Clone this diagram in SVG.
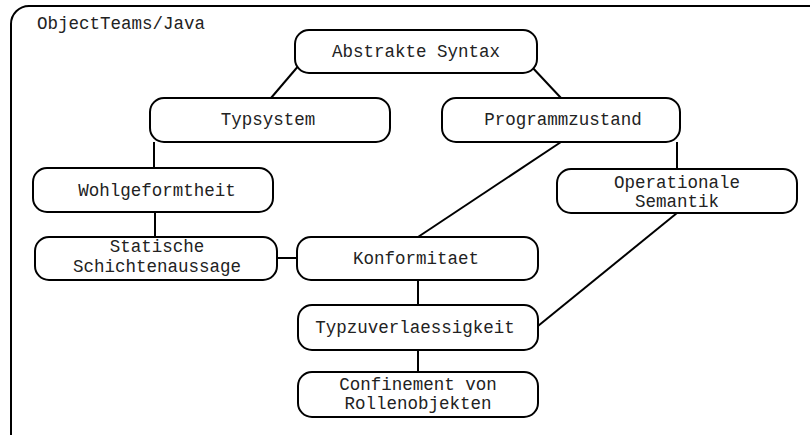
<svg xmlns="http://www.w3.org/2000/svg" width="810" height="435" viewBox="0 0 810 435">
<style>
.frame{fill:none;stroke:#000;stroke-width:2}
.box{fill:#fff;stroke:#000;stroke-width:2}
.edge{fill:none;stroke:#000;stroke-width:2}
text{font-family:"Liberation Mono","Courier New",monospace;font-size:17.5px;fill:#222;text-anchor:middle}
.title{text-anchor:start}
</style>
<rect width="810" height="435" fill="#fff"/>
<rect class="frame" x="11" y="6" width="830" height="460" rx="18"/>
<text class="title" x="37" y="29">ObjectTeams/Java</text>
<g id="connectors">
<line class="edge" x1="300" y1="64" x2="271" y2="98"/>
<line class="edge" x1="531" y1="66" x2="561" y2="98"/>
<line class="edge" x1="154" y1="142" x2="154" y2="168"/>
<line class="edge" x1="155" y1="212" x2="155" y2="237"/>
<line class="edge" x1="277" y1="258" x2="297" y2="258"/>
<line class="edge" x1="561" y1="142" x2="418" y2="237"/>
<line class="edge" x1="677" y1="142" x2="677" y2="169"/>
<line class="edge" x1="677" y1="213" x2="538" y2="326"/>
<line class="edge" x1="418" y1="280" x2="418" y2="305"/>
<line class="edge" x1="418" y1="350" x2="418" y2="372"/>
</g>
<g id="abstrakte-syntax">
<rect class="box" x="295" y="30" width="242" height="43" rx="14"/>
<text x="416" y="57">Abstrakte Syntax</text>
</g>
<g id="typsystem">
<rect class="box" x="150" y="98" width="240" height="44" rx="14"/>
<text x="268" y="125">Typsystem</text>
</g>
<g id="programmzustand">
<rect class="box" x="442" y="98" width="238" height="44" rx="14"/>
<text x="563" y="125">Programmzustand</text>
</g>
<g id="wohlgeformtheit">
<rect class="box" x="33" y="168" width="240" height="44" rx="14"/>
<text x="157" y="196">Wohlgeformtheit</text>
</g>
<g id="operationale-semantik">
<rect class="box" x="557" y="169" width="240" height="44" rx="14"/>
<text x="677" y="188">Operationale</text>
<text x="677" y="207">Semantik</text>
</g>
<g id="statische-schichtenaussage">
<rect class="box" x="35" y="237" width="242" height="43" rx="14"/>
<text x="157" y="252">Statische</text>
<text x="157" y="272">Schichtenaussage</text>
</g>
<g id="konformitaet">
<rect class="box" x="297" y="237" width="241" height="43" rx="14"/>
<text x="416" y="264">Konformitaet</text>
</g>
<g id="typzuverlaessigkeit">
<rect class="box" x="298" y="305" width="240" height="45" rx="14"/>
<text x="415" y="333">Typzuverlaessigkeit</text>
</g>
<g id="confinement">
<rect class="box" x="298" y="372" width="240" height="45" rx="14"/>
<text x="418" y="390">Confinement von</text>
<text x="418" y="409">Rollenobjekten</text>
</g>
</svg>
